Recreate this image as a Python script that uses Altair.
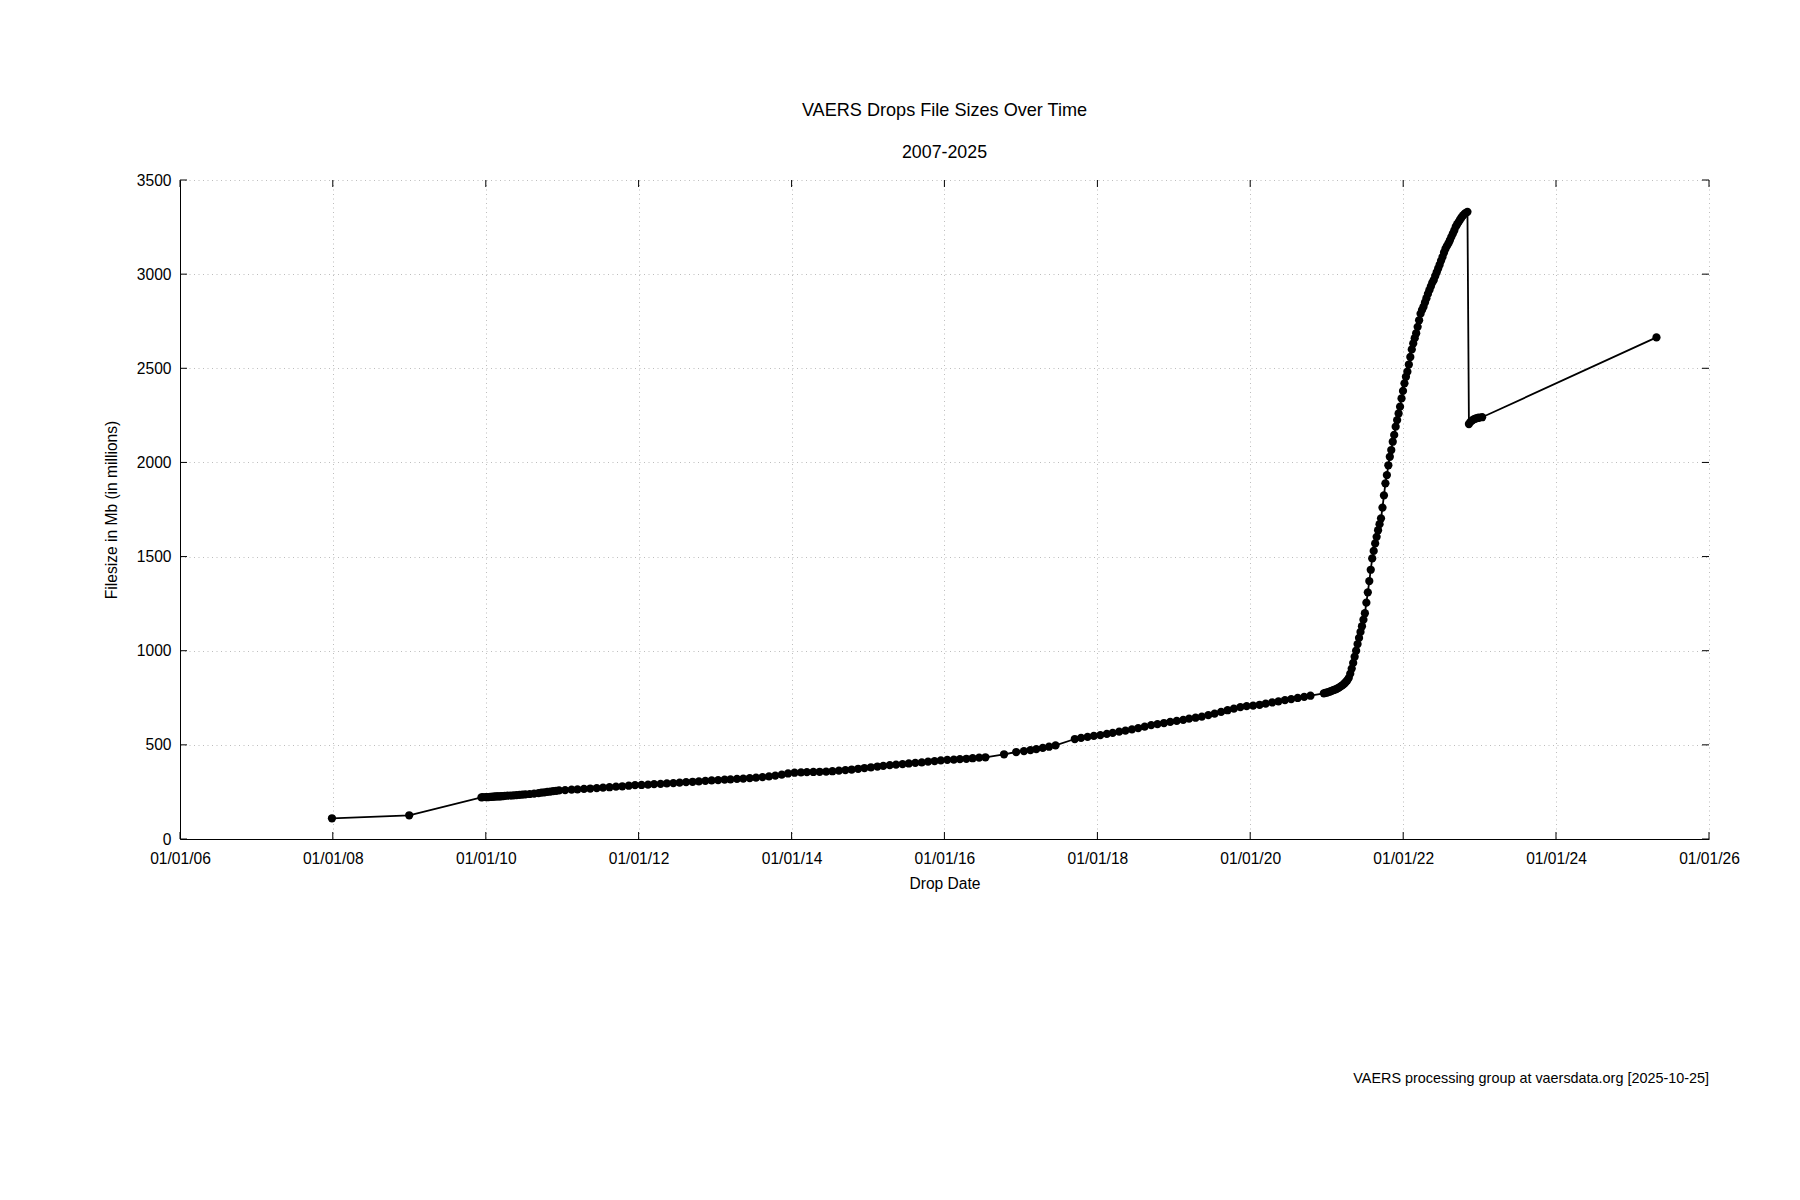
import altair as alt
import pandas as pd

# ---------------- data ----------------
early = [("2007-12-28", 110), ("2008-12-31", 126), ("2009-12-11", 221)]

drops_2010 = [
    ("2009-12-18", 222), ("2010-01-01", 222), ("2010-01-08", 223), ("2010-01-15", 223),
    ("2010-01-22", 224), ("2010-01-29", 224), ("2010-02-05", 225), ("2010-02-12", 225),
    ("2010-02-19", 226), ("2010-02-26", 226), ("2010-03-05", 227), ("2010-03-12", 227),
    ("2010-03-19", 228), ("2010-03-26", 228), ("2010-04-02", 229), ("2010-04-16", 230),
    ("2010-04-30", 231), ("2010-05-14", 232), ("2010-05-28", 233), ("2010-06-11", 234),
    ("2010-06-25", 236), ("2010-07-09", 237), ("2010-07-30", 239), ("2010-08-20", 241),
    ("2010-09-10", 244), ("2010-09-24", 246), ("2010-10-08", 248), ("2010-10-22", 250),
    ("2010-11-05", 252), ("2010-11-19", 254), ("2010-12-03", 256), ("2010-12-17", 258),
]

drops_2011_2015 = [
    ("2011-01-15", 260), ("2011-02-15", 262), ("2011-03-15", 264), ("2011-04-15", 266),
    ("2011-05-15", 268), ("2011-06-15", 270), ("2011-07-15", 273), ("2011-08-15", 275),
    ("2011-09-15", 278), ("2011-10-15", 280), ("2011-11-15", 283), ("2011-12-15", 286),
    ("2012-01-15", 287), ("2012-02-15", 289), ("2012-03-15", 291), ("2012-04-15", 293),
    ("2012-05-15", 295), ("2012-06-15", 297), ("2012-07-15", 299), ("2012-08-15", 302),
    ("2012-09-15", 304), ("2012-10-15", 306), ("2012-11-15", 309), ("2012-12-15", 311),
    ("2013-01-15", 313), ("2013-02-15", 315), ("2013-03-15", 317), ("2013-04-15", 319),
    ("2013-05-15", 321), ("2013-06-15", 323), ("2013-07-15", 326), ("2013-08-15", 329),
    ("2013-09-15", 333), ("2013-10-15", 337), ("2013-11-15", 342), ("2013-12-15", 348),
    ("2014-01-15", 352), ("2014-02-15", 354), ("2014-03-15", 355), ("2014-04-15", 356),
    ("2014-05-15", 357), ("2014-06-15", 358), ("2014-07-15", 360), ("2014-08-15", 363),
    ("2014-09-15", 366), ("2014-10-15", 369), ("2014-11-15", 373), ("2014-12-15", 377),
    ("2015-01-15", 381), ("2015-02-15", 385), ("2015-03-15", 388), ("2015-04-15", 392),
    ("2015-05-15", 395), ("2015-06-15", 398), ("2015-07-15", 401), ("2015-08-15", 404),
    ("2015-09-15", 407), ("2015-10-15", 411), ("2015-11-15", 414), ("2015-12-15", 418),
]

drops_2016_2020 = [
    ("2016-01-15", 420), ("2016-02-15", 422), ("2016-03-15", 424), ("2016-04-15", 426),
    ("2016-05-15", 429), ("2016-06-15", 432), ("2016-07-15", 434), ("2016-10-12", 450),
    ("2016-12-09", 462),
    ("2017-01-15", 467), ("2017-02-15", 472), ("2017-03-15", 477), ("2017-04-15", 484),
    ("2017-05-15", 490), ("2017-06-15", 497), ("2017-09-15", 531), ("2017-10-15", 537),
    ("2017-11-15", 542), ("2017-12-15", 548),
    ("2018-01-15", 552), ("2018-02-15", 558), ("2018-03-15", 564), ("2018-04-15", 570),
    ("2018-05-15", 576), ("2018-06-15", 582), ("2018-07-15", 589), ("2018-08-15", 597),
    ("2018-09-15", 605), ("2018-10-15", 610), ("2018-11-15", 616), ("2018-12-15", 622),
    ("2019-01-15", 627), ("2019-02-15", 633), ("2019-03-15", 639), ("2019-04-15", 644),
    ("2019-05-15", 650), ("2019-06-15", 658), ("2019-07-15", 666), ("2019-08-15", 675),
    ("2019-09-15", 684), ("2019-10-15", 692), ("2019-11-15", 700), ("2019-12-15", 706),
    ("2020-01-15", 708), ("2020-02-15", 713), ("2020-03-15", 719), ("2020-04-15", 725),
    ("2020-05-15", 731), ("2020-06-15", 738), ("2020-07-15", 743), ("2020-08-15", 749),
    ("2020-09-15", 755), ("2020-10-15", 761),
]

drops_2021 = [
    ("2020-12-18", 774), ("2020-12-25", 776), ("2021-01-01", 778), ("2021-01-08", 780),
    ("2021-01-15", 783), ("2021-01-22", 786), ("2021-01-29", 789), ("2021-02-05", 792),
    ("2021-02-12", 795), ("2021-02-19", 799), ("2021-02-26", 803), ("2021-03-05", 808),
    ("2021-03-12", 813), ("2021-03-19", 819), ("2021-03-26", 826), ("2021-04-02", 834),
    ("2021-04-09", 843), ("2021-04-16", 856), ("2021-04-23", 878), ("2021-04-30", 905),
    ("2021-05-07", 935), ("2021-05-14", 968), ("2021-05-21", 1000), ("2021-05-28", 1035),
    ("2021-06-04", 1068), ("2021-06-11", 1100), ("2021-06-18", 1130), ("2021-06-25", 1165),
    ("2021-07-02", 1199), ("2021-07-09", 1255), ("2021-07-16", 1310), ("2021-07-23", 1370),
    ("2021-07-30", 1430), ("2021-08-06", 1490), ("2021-08-13", 1530), ("2021-08-20", 1570),
    ("2021-08-27", 1605), ("2021-09-03", 1640), ("2021-09-10", 1672), ("2021-09-17", 1703),
    ("2021-09-24", 1760), ("2021-10-01", 1825), ("2021-10-08", 1889), ("2021-10-15", 1933),
    ("2021-10-22", 1985), ("2021-10-29", 2030), ("2021-11-05", 2066), ("2021-11-12", 2110),
    ("2021-11-19", 2146), ("2021-11-26", 2190), ("2021-12-03", 2225), ("2021-12-10", 2260),
    ("2021-12-17", 2296), ("2021-12-24", 2340), ("2021-12-31", 2380),
]

drops_2022 = [
    ("2022-01-07", 2420), ("2022-01-14", 2455), ("2022-01-21", 2482), ("2022-01-28", 2520),
    ("2022-02-04", 2560), ("2022-02-11", 2600), ("2022-02-18", 2632), ("2022-02-25", 2660),
    ("2022-03-04", 2686), ("2022-03-11", 2720), ("2022-03-18", 2755), ("2022-03-25", 2790),
    ("2022-04-01", 2810), ("2022-04-08", 2827), ("2022-04-15", 2850), ("2022-04-22", 2872),
    ("2022-04-29", 2895), ("2022-05-06", 2915), ("2022-05-13", 2935), ("2022-05-20", 2955),
    ("2022-05-27", 2969), ("2022-06-03", 2990), ("2022-06-10", 3010), ("2022-06-17", 3030),
    ("2022-06-24", 3050), ("2022-07-01", 3072), ("2022-07-08", 3092), ("2022-07-15", 3115),
    ("2022-07-22", 3135), ("2022-07-29", 3150), ("2022-08-05", 3163), ("2022-08-12", 3180),
    ("2022-08-19", 3198), ("2022-08-26", 3215), ("2022-09-02", 3232), ("2022-09-09", 3252),
    ("2022-09-16", 3265), ("2022-09-23", 3278), ("2022-09-30", 3290), ("2022-10-07", 3302),
    ("2022-10-14", 3312), ("2022-10-21", 3320), ("2022-10-28", 3326), ("2022-11-04", 3331),
]

after_reset = [
    ("2022-11-11", 2204), ("2022-11-18", 2215), ("2022-11-25", 2222), ("2022-12-02", 2227),
    ("2022-12-09", 2231), ("2022-12-16", 2234), ("2022-12-23", 2236), ("2022-12-30", 2238),
    ("2023-01-13", 2240), ("2025-04-25", 2664),
]

tick_years = [2006, 2008, 2010, 2012, 2014, 2016, 2018, 2020, 2022, 2024, 2026]
y_ticks = [0, 500, 1000, 1500, 2000, 2500, 3000, 3500]

title_text = "VAERS Drops File Sizes Over Time"
subtitle_text = "2007-2025"
footnote_text = "VAERS processing group at vaersdata.org [2025-10-25]"

# ---------------- build ----------------
rows = early + drops_2010 + drops_2011_2015 + drops_2016_2020 + drops_2021 + drops_2022 + after_reset
df = pd.DataFrame(rows, columns=["date", "size"])

xtick_df = pd.DataFrame({"date": [f"{y}-01-01" for y in tick_years]})
ytick_df = pd.DataFrame({"size": y_ticks})

W, H = 1529, 659
FONT = "Liberation Sans"
TICK = 7

xs = alt.Scale(type="utc",
               domain=[alt.DateTime(year=2006, month=1, date=1, utc=True),
                       alt.DateTime(year=2026, month=1, date=1, utc=True)],
               nice=False)
ys = alt.Scale(domain=[0, 3500], nice=False, zero=True)

xax = alt.Axis(values=[alt.DateTime(year=y, month=1, date=1, utc=True) for y in tick_years],
               format="%m/%d/%y", labelFont=FONT, labelFontSize=15.6, labelColor="black",
               labelPadding=12, labelFlush=False, labelOverlap=False,
               ticks=False, domain=True, domainColor="black", domainWidth=1,
               grid=True, gridColor="#bdbdbd", gridDash=[1, 3.5], gridWidth=1,
               title="Drop Date", titleFont=FONT, titleFontSize=15.6,
               titleFontWeight="normal", titleColor="black", titlePadding=10)
yax = alt.Axis(values=y_ticks, format="d", labelFont=FONT, labelFontSize=15.6,
               labelColor="black", labelPadding=9, labelFlush=False, labelOverlap=False,
               ticks=False, domain=True, domainColor="black", domainWidth=1,
               grid=True, gridColor="#bdbdbd", gridDash=[1, 3.5], gridWidth=1,
               title="Filesize in Mb (in millions)", titleFont=FONT, titleFontSize=15.6,
               titleFontWeight="normal", titleColor="black", titlePadding=17)

X = alt.X("date:T", scale=xs, axis=xax)
Y = alt.Y("size:Q", scale=ys, axis=yax)

base = alt.Chart(df)
line = base.mark_line(color="black", strokeWidth=1.8).encode(x=X, y=Y)
pts = base.mark_circle(color="black", size=68, opacity=1).encode(x=X, y=Y)

xt = alt.Chart(xtick_df)
bottom_ticks = xt.mark_rule(color="black", strokeWidth=1).encode(
    x=X, y=alt.value(H), y2=alt.value(H - TICK))
top_ticks = xt.mark_rule(color="black", strokeWidth=1).encode(
    x=X, y=alt.value(0), y2=alt.value(TICK))
yt = alt.Chart(ytick_df)
left_ticks = yt.mark_rule(color="black", strokeWidth=1).encode(
    y=Y, x=alt.value(0), x2=alt.value(TICK))
right_ticks = yt.mark_rule(color="black", strokeWidth=1).encode(
    y=Y, x=alt.value(W), x2=alt.value(W - TICK))

txt_df = pd.DataFrame({"t": [title_text, subtitle_text, footnote_text]})
title = alt.Chart(txt_df).transform_filter(alt.datum.t == title_text).mark_text(
    font=FONT, fontSize=18.1, color="black", align="center", baseline="alphabetic"
).encode(text="t:N", x=alt.value(W / 2), y=alt.value(-64))
subtitle = alt.Chart(txt_df).transform_filter(alt.datum.t == subtitle_text).mark_text(
    font=FONT, fontSize=17.8, color="black", align="center", baseline="alphabetic"
).encode(text="t:N", x=alt.value(W / 2), y=alt.value(-22))
footnote = alt.Chart(txt_df).transform_filter(alt.datum.t == footnote_text).mark_text(
    font=FONT, fontSize=14.4, color="black", align="right", baseline="alphabetic"
).encode(text="t:N", x=alt.value(W), y=alt.value(903))

chart = alt.layer(
    line, pts, bottom_ticks, top_ticks, left_ticks, right_ticks, title, subtitle, footnote
).properties(
    width=W, height=H,
    autosize=alt.AutoSizeParams(type="none"),
    padding={"left": 172, "top": 172, "right": 83, "bottom": 320},
    background="white",
).configure_view(stroke=None)

chart.save("out.html", embed_options={"renderer": "svg", "actions": False})
